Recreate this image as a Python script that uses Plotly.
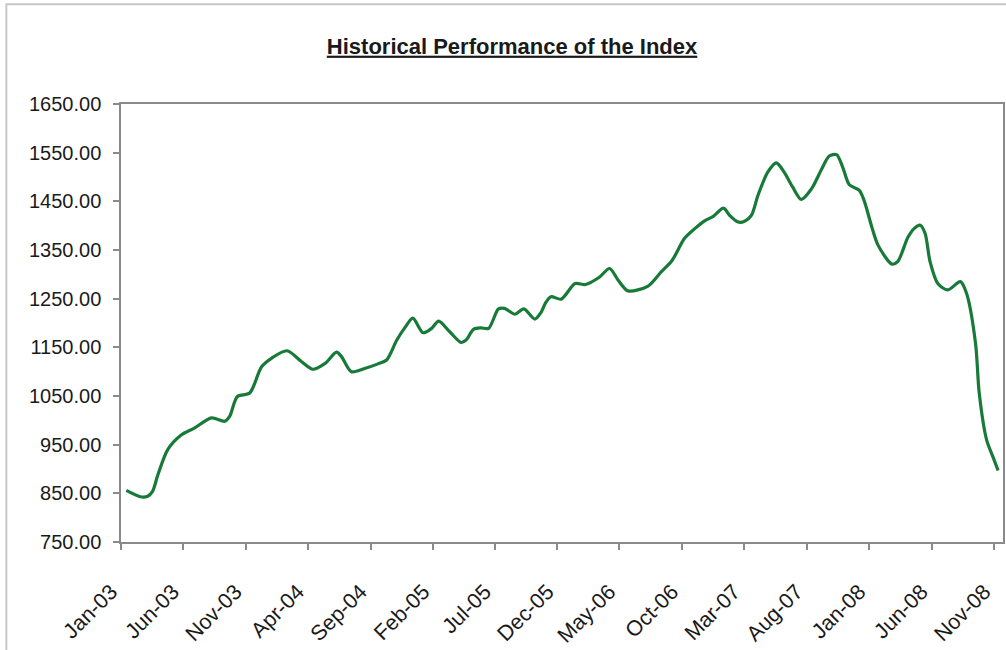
import plotly.graph_objects as go

# Data
dates = [
    "2003-01-14", "2003-02-17", "2003-03-07", "2003-03-19", "2003-04-01", "2003-04-25",
    "2003-05-28", "2003-06-29", "2003-08-10", "2003-09-11", "2003-09-23", "2003-10-12",
    "2003-11-11", "2003-12-10", "2004-01-04", "2004-02-10", "2004-03-16", "2004-04-13",
    "2004-05-13", "2004-06-10", "2004-06-22", "2004-07-16", "2004-08-19", "2004-09-19",
    "2004-10-10", "2004-11-04", "2004-11-25", "2004-12-13", "2005-01-07", "2005-01-28",
    "2005-02-14", "2005-03-13", "2005-04-10", "2005-04-22", "2005-05-10", "2005-05-28",
    "2005-06-16", "2005-07-10", "2005-07-25", "2005-08-19", "2005-09-10", "2005-10-07",
    "2005-10-22", "2005-11-01", "2005-11-15", "2005-12-10", "2006-01-13", "2006-02-07",
    "2006-03-13", "2006-04-07", "2006-04-28", "2006-05-22", "2006-07-10", "2006-08-11",
    "2006-09-07", "2006-10-07", "2006-11-01", "2006-11-25", "2006-12-16", "2007-01-10",
    "2007-01-25", "2007-02-13", "2007-02-28", "2007-03-19", "2007-04-04", "2007-04-28",
    "2007-05-19", "2007-06-07", "2007-06-28", "2007-07-19", "2007-08-13", "2007-09-07",
    "2007-09-25", "2007-10-13", "2007-10-28", "2007-11-13", "2007-12-07", "2007-12-19",
    "2008-01-07", "2008-01-22", "2008-02-25", "2008-03-10", "2008-04-04", "2008-04-19",
    "2008-05-04", "2008-05-16", "2008-05-28", "2008-06-16", "2008-07-10", "2008-08-10",
    "2008-08-25", "2008-09-16", "2008-09-25", "2008-10-13", "2008-10-28", "2008-11-10",
]
values = [
    856, 843, 844, 854, 888, 940,
    970, 984, 1005, 998, 1008, 1049,
    1056, 1110, 1128, 1143, 1121, 1105,
    1117, 1140, 1131, 1100, 1107, 1116,
    1124, 1165, 1192, 1210, 1180, 1189,
    1204, 1182, 1160, 1165, 1187, 1190,
    1189, 1229, 1230, 1218, 1229, 1208,
    1222, 1240, 1254, 1249, 1281, 1279,
    1294, 1312, 1288, 1266, 1276, 1305,
    1329, 1374, 1394, 1410, 1419, 1436,
    1421, 1408, 1408, 1421, 1462, 1510,
    1529, 1510, 1479, 1454, 1476, 1517,
    1543, 1546, 1520, 1484, 1473, 1452,
    1397, 1360, 1321, 1326, 1376, 1394,
    1401, 1384, 1326, 1281, 1268, 1285,
    1261, 1158, 1056, 960, 926, 897,
]

tick_dates = [
    "2003-01-01", "2003-06-01", "2003-11-01", "2004-04-01", "2004-09-01",
    "2005-02-01", "2005-07-01", "2005-12-01", "2006-05-01", "2006-10-01",
    "2007-03-01", "2007-08-01", "2008-01-01", "2008-06-01", "2008-11-01",
]
tick_labels = [
    "Jan-03", "Jun-03", "Nov-03", "Apr-04", "Sep-04", "Feb-05", "Jul-05", "Dec-05",
    "May-06", "Oct-06", "Mar-07", "Aug-07", "Jan-08", "Jun-08", "Nov-08",
]
y_ticks = [750, 850, 950, 1050, 1150, 1250, 1350, 1450, 1550, 1650]

FONT = "Liberation Sans, Arial, sans-serif"
TEXT = "#1a1a1a"
AXIS = "#8a8a8a"

fig = go.Figure()
fig.add_trace(go.Scatter(
    x=dates, y=values, mode="lines",
    line=dict(color="#187a38", width=3.2, shape="spline", smoothing=0.8),
    showlegend=False, hoverinfo="x+y",
))

fig.update_layout(
    width=1006, height=650,
    margin=dict(l=121, r=3, t=104, b=108, autoexpand=False),
    paper_bgcolor="white", plot_bgcolor="white",
    font=dict(family=FONT, color=TEXT, size=20),
    title=dict(
        text="<b><u>Historical Performance of the Index</u></b>",
        x=0.509, xref="container", xanchor="center",
        y=1 - 46 / 650, yref="container", yanchor="middle",
        font=dict(family=FONT, size=22, color=TEXT),
    ),
    xaxis=dict(
        type="date",
        range=["2003-01-01", "2008-11-22"],
        tickmode="array", tickvals=tick_dates, ticktext=tick_labels,
        tickangle=-45,
        ticks="outside", ticklen=6, tickcolor=AXIS, tickwidth=1.5,
        showline=True, linecolor=AXIS, linewidth=1.5, mirror=True,
        showgrid=False, zeroline=False,
        tickfont=dict(family=FONT, size=21.5, color=TEXT),
        ticklabelshift=-10, ticklabelstandoff=21,
    ),
    yaxis=dict(
        range=[750, 1650],
        tickmode="array", tickvals=y_ticks, tickformat=".2f",
        ticks="outside", ticklen=6, tickcolor=AXIS, tickwidth=1.5,
        showline=True, linecolor=AXIS, linewidth=1.5, mirror=True,
        showgrid=False, zeroline=False,
        tickfont=dict(family=FONT, size=20, color=TEXT),
        ticklabelstandoff=8,
    ),
    shapes=[dict(
        type="path", xref="paper", yref="paper",
        path="M -0.13 -0.25 L -0.13 1.228 L 1.01 1.228",
        line=dict(color="#c8c8c8", width=2),
    )],
)

fig.write_html(
    "out.html",
    config={"displayModeBar": False},
    post_script="document.body.style.margin='0';",
)
